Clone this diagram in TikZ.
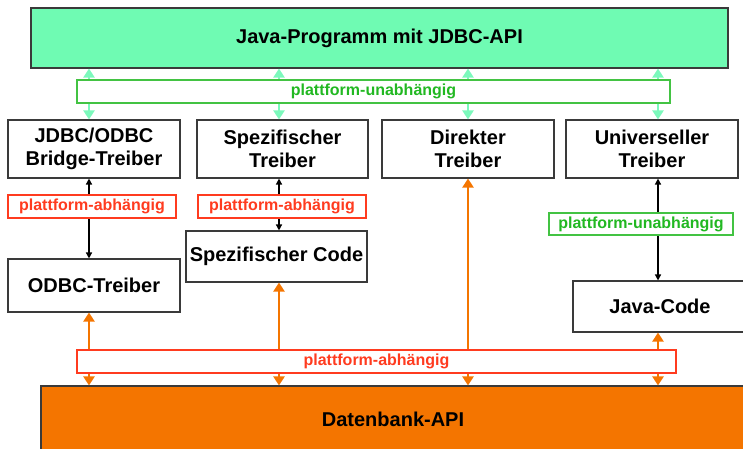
\documentclass[tikz,border=0pt]{standalone}
\usepackage{fontspec}
\setmainfont{Liberation Sans}
\usetikzlibrary{arrows.meta}

\definecolor{javagreen}{HTML}{6FFBB3}
\definecolor{arrowgreen}{HTML}{7CF9BC}
\definecolor{labelgreen}{HTML}{22B822}
\definecolor{labelred}{HTML}{FF3B1F}
\definecolor{dborange}{HTML}{F47500}
\definecolor{boxgray}{HTML}{3A3A3A}

\begin{document}
\begin{tikzpicture}[x=1pt,y=-1pt,
  box/.style={draw=boxgray,line width=1.1pt,fill=white,align=center,inner sep=0pt,
    font=\fontsize{20}{23}\selectfont\bfseries},
  lbl/.style={draw,line width=1.1pt,fill=white,inner sep=0pt,minimum height=23pt,
    font=\fontsize{16}{18}\selectfont\bfseries},
  indep/.style={lbl,draw=labelgreen!85,text=labelgreen},
  dep/.style={lbl,draw=labelred,text=labelred},
  garrow/.style={arrowgreen,line width=2.6pt,
    {Triangle[width=11pt,length=9pt]}-{Triangle[width=11pt,length=9pt]}},
  oarrow/.style={dborange,line width=2.8pt,
    {Triangle[width=11pt,length=9pt]}-{Triangle[width=11pt,length=9pt]}},
  barrow/.style={black,line width=1.4pt,
    {Triangle[width=6pt,length=6pt]}-{Triangle[width=6pt,length=6pt]}}]
\useasboundingbox (0,0) rectangle (743,448);
\clip (0,0) rectangle (743,448);

% boxes
\node[box,fill=javagreen,minimum width=697pt,minimum height=60pt] (java) at (379.5,38) {Java-Programm mit JDBC-API};
\node[box,minimum width=172pt,minimum height=58pt] (bridge) at (94,149) {JDBC/ODBC\\Bridge-Treiber};
\node[box,minimum width=171pt,minimum height=58pt] (spez) at (282.5,149) {Spezifischer\\Treiber};
\node[box,minimum width=172pt,minimum height=58pt] (direkt) at (468,149) {Direkter\\Treiber};
\node[box,minimum width=172pt,minimum height=58pt] (univ) at (652,149) {Universeller\\Treiber};
\node[box,minimum width=172pt,minimum height=53pt] (odbc) at (94,285.5) {ODBC-Treiber};
\node[box,minimum width=181pt,minimum height=51pt] (spcode) at (276.5,256.5) {Spezifischer Code};
\node[box,minimum width=174pt,minimum height=51pt] (jcode) at (660,306.5) {Java-Code};
\node[box,fill=dborange,minimum width=704pt,minimum height=66pt] (api) at (393,419) {Datenbank-API};

% columns of the connectors
\coordinate (c1) at (89,0);
\coordinate (c2) at (279,0);
\coordinate (c3) at (468,0);
\coordinate (c4) at (658,0);

\foreach \b/\c in {bridge/c1,spez/c2,direkt/c3,univ/c4}
  \draw[garrow] (java.south -| \c) -- (\b.north -| \c);
\foreach \b/\c in {odbc/c1,spcode/c2,direkt/c3,jcode/c4}
  \draw[oarrow] (\b.south -| \c) -- (api.north -| \c);
\draw[barrow] (bridge.south -| c1) -- (odbc.north -| c1);
\draw[barrow] (spez.south -| c2) -- (spcode.north -| c2);
\draw[barrow] (univ.south -| c4) -- (jcode.north -| c4);

% labels
\node[indep,minimum width=593pt] (unabh1) at (373.5,91.5) {plattform-unabhängig};
\node[dep,minimum width=168pt] (abh1) at (92,206.5) {plattform-abhängig};
\node[dep,minimum width=168pt] (abh2) at (282,206.5) {plattform-abhängig};
\node[indep,minimum width=184pt,minimum height=22pt] (unabh2) at (641,224) {plattform-unabhängig};
\node[dep,minimum width=599pt] (abh3) at (376.5,361.5) {plattform-abhängig};
\end{tikzpicture}
\end{document}
